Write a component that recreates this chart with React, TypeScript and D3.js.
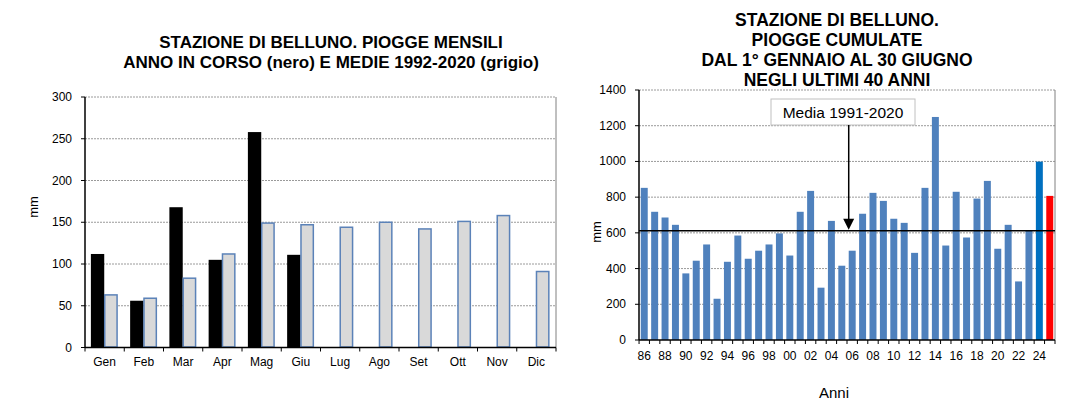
import * as d3 from "d3";

const months = ["Gen", "Feb", "Mar", "Apr", "Mag", "Giu", "Lug", "Ago", "Set", "Ott", "Nov", "Dic"];
const currentYear = [112, 56, 168, 105, 258, 111];
const monthlyMeans = [63, 59, 83, 112, 149, 147, 144, 150, 142, 151, 158, 91];
const monthTicks = [0, 50, 100, 150, 200, 250, 300];

const years = d3.range(1986, 2026);
const cumulated = [
  852, 718, 686, 645, 373, 444, 535, 231, 438, 585,
  455, 500, 535, 597, 473, 718, 835, 293, 667, 416,
  500, 707, 824, 779, 679, 656, 488, 852, 1249, 529,
  830, 574, 792, 891, 511, 645, 328, 611, 999, 807,
];
const cumTicks = [0, 200, 400, 600, 800, 1000, 1200, 1400];
const mean1991_2020 = 612;

const font = "'Liberation Sans', Arial, sans-serif";

function MonthlyChart() {
  const left = 85;
  const right = 556;
  const top = 97;
  const bottom = 347.5;
  const x = d3.scaleBand<string>().domain(months).range([left, right]);
  const y = d3.scaleLinear().domain([0, 300]).range([bottom, top]);
  const bw = x.bandwidth();
  const barW = bw * 0.34;
  const off = bw * 0.15;

  return (
    <g fontFamily={font}>
      <text x={331} y={48} textAnchor="middle" fontWeight="bold" fontSize={17}>
        STAZIONE DI BELLUNO. PIOGGE MENSILI
      </text>
      <text x={331} y={68} textAnchor="middle" fontWeight="bold" fontSize={17}>
        ANNO IN CORSO (nero) E MEDIE 1992-2020 (grigio)
      </text>
      {monthTicks.slice(1).map((t) => (
        <line key={t} x1={left} x2={right} y1={y(t)} y2={y(t)} stroke="#9a9a9a" strokeDasharray="2 1" />
      ))}
      <line x1={right} x2={right} y1={top} y2={bottom} stroke="#808080" />
      {monthTicks.map((t) => (
        <g key={t}>
          <line x1={left - 4} x2={left} y1={y(t)} y2={y(t)} stroke="#000" />
          <text x={72} y={y(t) + 4} textAnchor="end" fontSize={12}>
            {t}
          </text>
        </g>
      ))}
      {currentYear.map((v, i) => (
        <rect key={months[i]} x={(x(months[i]) ?? 0) + off} y={y(v)} width={barW} height={bottom - y(v)} fill="#000" />
      ))}
      {monthlyMeans.map((v, i) => (
        <rect
          key={months[i]}
          x={(x(months[i]) ?? 0) + off + barW + 0.5}
          y={y(v)}
          width={barW - 1}
          height={bottom - y(v) - 0.5}
          fill="#d9d9d9"
          stroke="#5b82b8"
          strokeWidth={1.5}
        />
      ))}
      <line x1={left} x2={left} y1={top} y2={bottom} stroke="#000" strokeWidth={1.5} />
      <line x1={left} x2={right} y1={bottom} y2={bottom} stroke="#000" strokeWidth={1.5} />
      {months.map((m) => (
        <g key={m}>
          <line x1={x(m)} x2={x(m)} y1={bottom} y2={bottom + 4} stroke="#000" />
          <text x={(x(m) ?? 0) + bw / 2} y={366} textAnchor="middle" fontSize={12}>
            {m}
          </text>
        </g>
      ))}
      <line x1={right} x2={right} y1={bottom} y2={bottom + 4} stroke="#000" />
      <text transform="translate(38,207) rotate(-90)" textAnchor="middle" fontSize={13}>
        mm
      </text>
    </g>
  );
}

function CumulatedChart() {
  const left = 639;
  const right = 1055;
  const top = 90;
  const bottom = 340;
  const x = d3.scaleBand<number>().domain(years).range([left, right]).paddingInner(0.33).paddingOuter(0.17);
  const y = d3.scaleLinear().domain([0, 1400]).range([bottom, top]);
  const step = x.step();
  const barColor = (yr: number) => (yr === 2025 ? "#ff0000" : yr === 2024 ? "#0070c0" : "#4f81bd");
  const arrowX = x(2006) ?? 0;
  const yMean = y(mean1991_2020);
  const boxY = 99;
  const boxH = 26;

  return (
    <g fontFamily={font}>
      {["STAZIONE DI BELLUNO.", "PIOGGE CUMULATE", "DAL 1° GENNAIO AL 30 GIUGNO", "NEGLI ULTIMI 40 ANNI"].map((l, i) => (
        <text key={l} x={837} y={26 + i * 20} textAnchor="middle" fontWeight="bold" fontSize={17.5}>
          {l}
        </text>
      ))}
      {cumTicks.slice(1).map((t) => (
        <line key={t} x1={left} x2={right} y1={y(t)} y2={y(t)} stroke="#9a9a9a" strokeDasharray="2 1" />
      ))}
      <line x1={right} x2={right} y1={top} y2={bottom} stroke="#808080" />
      {cumTicks.map((t) => (
        <g key={t}>
          <line x1={left - 4} x2={left} y1={y(t)} y2={y(t)} stroke="#000" />
          <text x={626} y={y(t) + 4} textAnchor="end" fontSize={12}>
            {t}
          </text>
        </g>
      ))}
      {cumulated.map((v, i) => (
        <rect key={years[i]} x={x(years[i])} y={y(v)} width={x.bandwidth()} height={bottom - y(v)} fill={barColor(years[i])} />
      ))}
      <line x1={left} x2={right} y1={yMean} y2={yMean} stroke="#000" strokeWidth={1.5} />
      <line x1={left} x2={left} y1={top} y2={bottom} stroke="#000" strokeWidth={1.5} />
      <line x1={left} x2={right} y1={bottom} y2={bottom} stroke="#000" strokeWidth={1.5} />
      {years.map((yr, i) => {
        const x0 = (x(yr) ?? 0) - (step - x.bandwidth()) / 2;
        return (
          <g key={yr}>
            <line x1={x0} x2={x0} y1={bottom} y2={bottom + 4} stroke="#000" />
            {i % 2 === 0 && (
              <text x={(x(yr) ?? 0) + x.bandwidth() / 2} y={360} textAnchor="middle" fontSize={12}>
                {String(yr % 100).padStart(2, "0")}
              </text>
            )}
          </g>
        );
      })}
      <line x1={right} x2={right} y1={bottom} y2={bottom + 4} stroke="#000" />
      <text transform="translate(601,232) rotate(-90)" textAnchor="middle" fontSize={13}>
        mm
      </text>
      <text x={834} y={398} textAnchor="middle" fontSize={15}>
        Anni
      </text>
      <rect x={771} y={boxY} width={144} height={boxH} fill="#fff" stroke="#c0c0c0" />
      <text x={843} y={boxY + 18.5} textAnchor="middle" fontSize={15.5}>
        Media 1991-2020
      </text>
      <line x1={arrowX} x2={arrowX} y1={boxY + boxH} y2={yMean - 10} stroke="#000" strokeWidth={1.5} />
      <path d={`M${arrowX - 5.5},${yMean - 12} L${arrowX + 5.5},${yMean - 12} L${arrowX},${yMean - 1} Z`} fill="#000" />
    </g>
  );
}

export default function App() {
  return (
    <svg width={1083} height={408} style={{ position: "absolute", left: 0, top: 0, background: "#fff" }}>
      <rect width={1083} height={408} fill="#fff" />
      <MonthlyChart />
      <CumulatedChart />
    </svg>
  );
}
